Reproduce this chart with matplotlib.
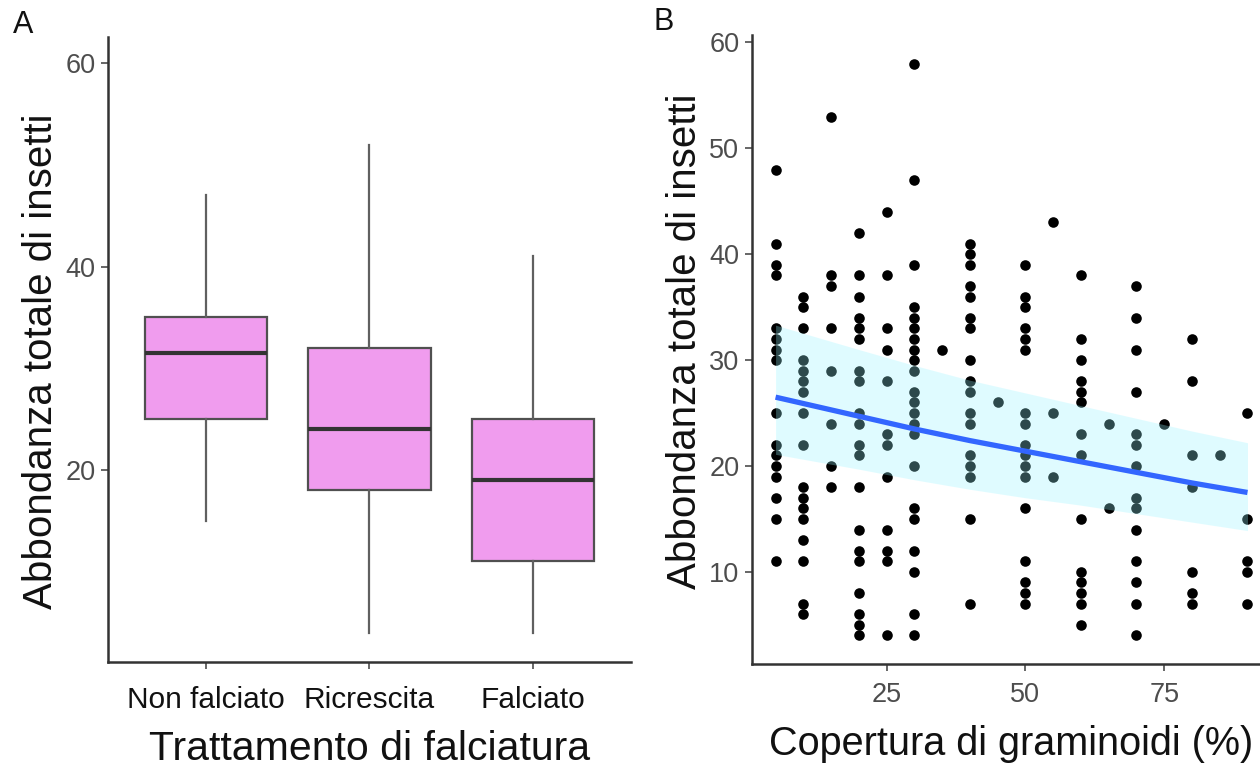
import numpy as np
import matplotlib
matplotlib.use("Agg")
import matplotlib.pyplot as plt

plt.rcParams['font.family'] = ['Liberation Sans', 'DejaVu Sans']

# panel A: box summaries
treatments = ['Non falciato', 'Ricrescita', 'Falciato']
whis_lo = [15, 4, 4]
q1 = [25, 18, 11]
median = [31.5, 24, 19]
q3 = [35, 32, 25]
whis_hi = [47, 52, 41]

# panel B: points, one list per graminoid cover value
cover = [5, 10, 15, 20, 25, 30, 35, 40, 45, 50, 55, 60, 65, 70, 75, 80, 85, 90]
abund = [
    [48, 41, 39, 38, 33, 32, 31, 30, 25, 22, 21, 20, 19, 17, 15, 11],
    [36, 35, 33, 30, 29, 28, 27, 25, 22, 18, 17, 16, 15, 13, 11, 7, 6],
    [53, 38, 37, 33, 29, 24, 20, 18],
    [42, 38, 36, 34, 33, 32, 29, 28, 25, 24, 22, 21, 18, 14, 12, 11, 8, 6, 5, 4],
    [44, 38, 33, 31, 28, 23, 22, 19, 14, 12, 11, 4],
    [58, 47, 39, 35, 34, 33, 32, 31, 30, 29, 27, 26, 25, 24, 23, 20, 16, 15, 12, 10, 6, 4],
    [31],
    [41, 40, 39, 37, 36, 34, 33, 30, 28, 27, 25, 24, 21, 20, 19, 15, 7],
    [26],
    [39, 36, 35, 33, 32, 31, 25, 24, 22, 21, 20, 19, 16, 11, 9, 8, 7],
    [43, 25, 19],
    [38, 32, 30, 28, 27, 26, 23, 21, 15, 10, 9, 8, 7, 5],
    [24, 16],
    [37, 34, 31, 27, 23, 22, 20, 17, 16, 14, 11, 9, 7, 4],
    [24],
    [32, 28, 21, 18, 10, 8, 7],
    [21],
    [25, 15, 11, 10, 7],
]

# fitted curve and its band
fit_x = [5, 20, 30, 40, 50, 60, 70, 80, 90]
fit_y = [26.5, 24.7, 23.5, 22.4, 21.4, 20.4, 19.4, 18.4, 17.5]
band_hi = [33.3, 31.0, 29.5, 28.1, 26.9, 25.7, 24.5, 23.3, 22.2]
band_lo = [21.1, 19.7, 18.7, 17.8, 17.0, 16.3, 15.5, 14.7, 13.9]

fig = plt.figure(figsize=(12.6, 7.68), dpi=100)
axA = fig.add_axes([0.0857, 0.138, 0.415, 0.814])
axB = fig.add_axes([0.5968, 0.1354, 0.412, 0.819])

spine_col = '#333333'
tick_col = '#4d4d4d'

for ax in (axA, axB):
    for s in ('top', 'right'):
        ax.spines[s].set_visible(False)
    for s in ('left', 'bottom'):
        ax.spines[s].set_color(spine_col)
        ax.spines[s].set_linewidth(1.8)
    ax.tick_params(length=5, width=1.2, color=tick_col, labelcolor=tick_col,
                   labelsize=19.5, pad=4)

# ---- A
stats = []
for i in range(3):
    stats.append(dict(med=median[i], q1=q1[i], q3=q3[i],
                      whislo=whis_lo[i], whishi=whis_hi[i], fliers=[]))
pos = np.arange(1, 4)
axA.bxp(stats, positions=pos, widths=0.75, patch_artist=True, showcaps=False,
        boxprops=dict(facecolor='#f09cee', edgecolor='#505050', linewidth=1.6),
        medianprops=dict(color='#333333', linewidth=3),
        whiskerprops=dict(color='#606060', linewidth=1.6))
axA.set_xlim(0.4, 3.6)
axA.set_ylim(1.1, 62.6)
axA.set_yticks([20, 40, 60])
axA.set_xticks(pos)
axA.set_xticklabels(treatments)
axA.tick_params(axis='x', labelsize=21.5, labelcolor='#111111', pad=12)
axA.set_xlabel('Trattamento di falciatura', fontsize=29.5, color='#111111', labelpad=12)
axA.set_ylabel('Abbondanza totale di insetti', fontsize=29, color='#111111')
axA.yaxis.set_label_coords(-0.092, 0.481)

# ---- B
xs = np.concatenate([[c] * len(v) for c, v in zip(cover, abund)])
ys = np.concatenate(abund)
axB.scatter(xs, ys, s=58, color='black', linewidths=0, zorder=2)
axB.fill_between(fit_x, band_lo, band_hi, color='#98f5ff', alpha=0.3,
                 linewidth=0, zorder=3)
axB.plot(fit_x, fit_y, color='#3366ff', linewidth=3.8, zorder=4,
         solid_capstyle='butt')
axB.set_xlim(0.75, 94.25)
axB.set_ylim(1.3, 60.7)
axB.set_xticks([25, 50, 75])
axB.set_yticks([10, 20, 30, 40, 50, 60])
axB.tick_params(axis='x', pad=8)
axB.set_xlabel('Copertura di graminoidi (%)', fontsize=28.5, color='#111111', labelpad=12)
axB.set_ylabel('Abbondanza totale di insetti', fontsize=29, color='#111111')
axB.yaxis.set_label_coords(-0.093, 0.513)

fig.text(0.010, 0.968, 'A', fontsize=22, color='#111111', va='center')
fig.text(0.519, 0.972, 'B', fontsize=22, color='#111111', va='center')

fig.savefig('out.png', dpi=100)
